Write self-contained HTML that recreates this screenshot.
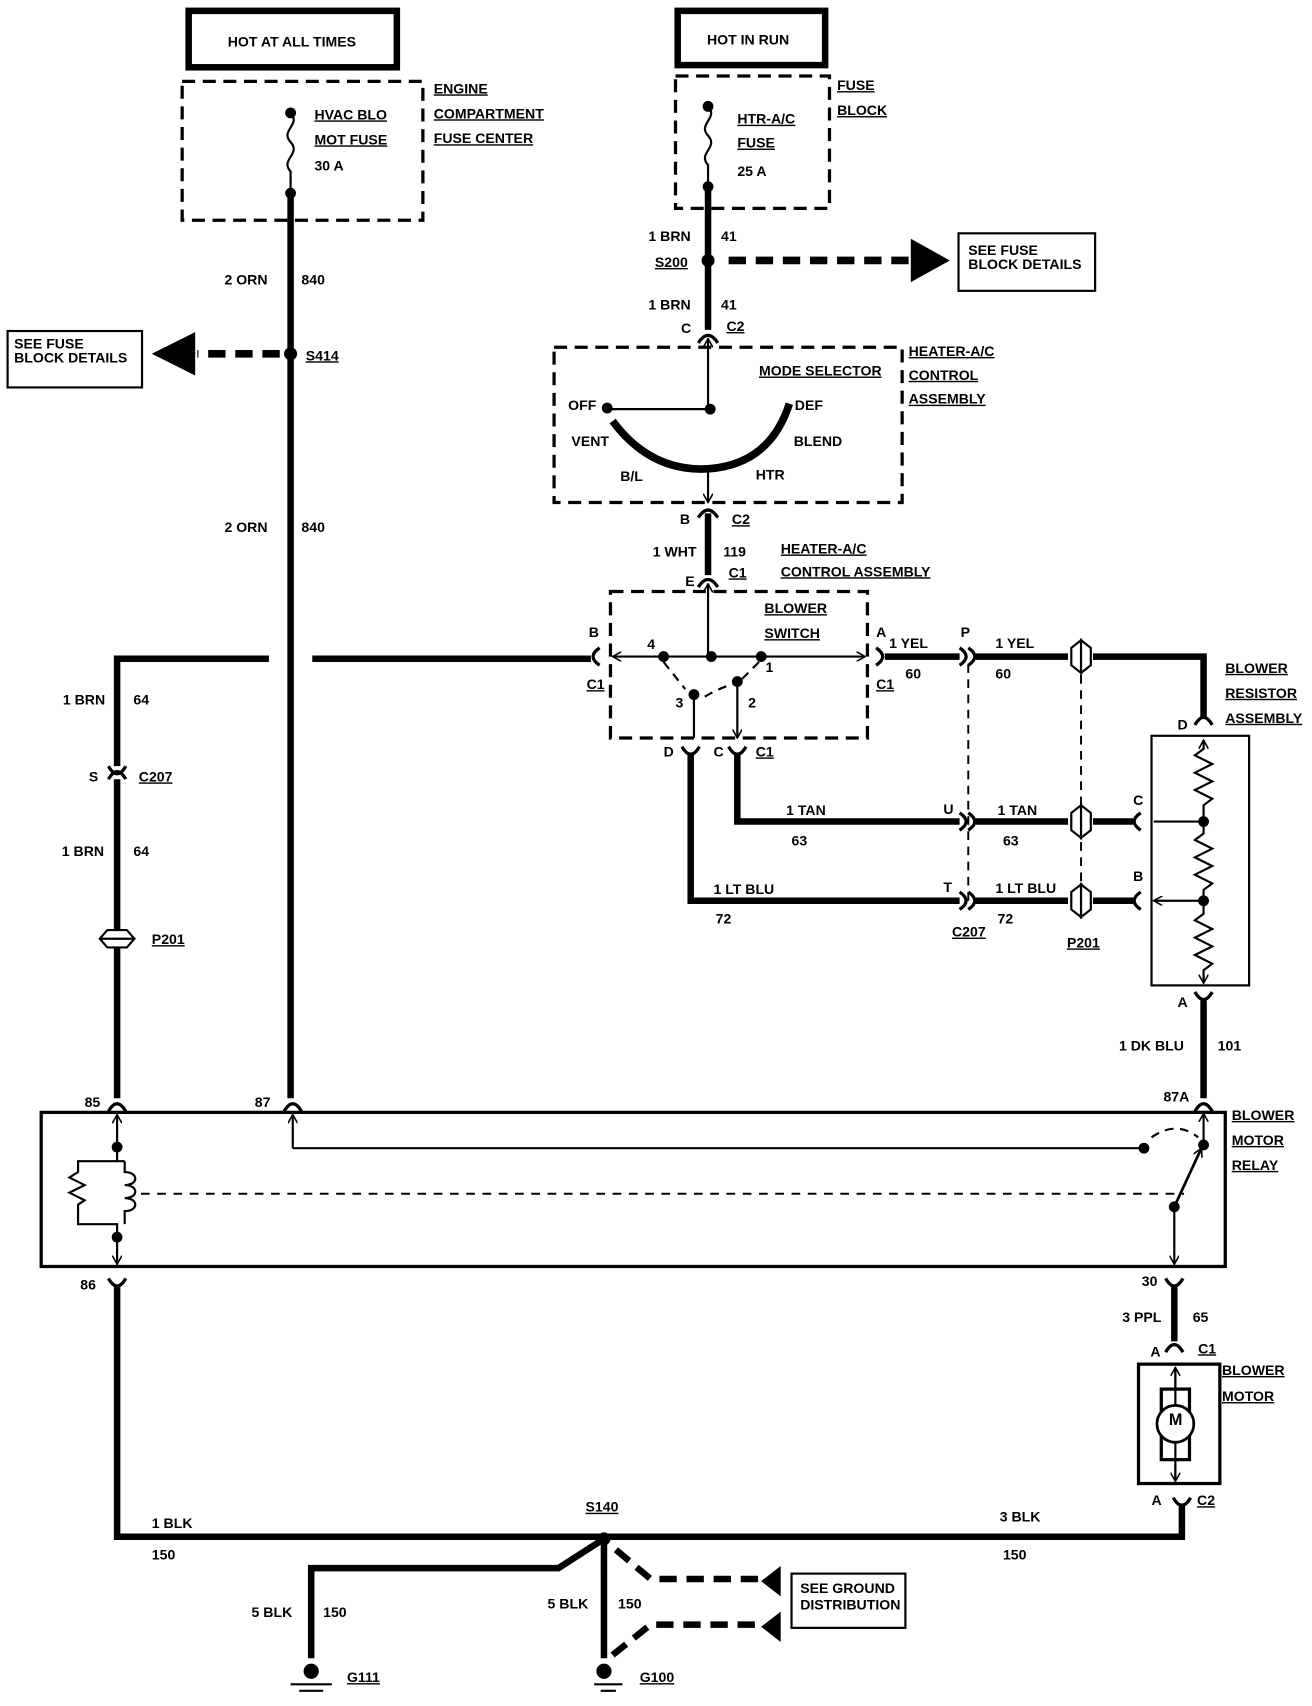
<!DOCTYPE html>
<html><head><meta charset="utf-8"><style>
html,body{margin:0;padding:0;background:#fff;}
svg{display:block;}
text{font-family:"Liberation Sans",sans-serif;font-weight:bold;font-size:13px;fill:#000;}
</style></head><body>
<svg width="1312" height="1706" viewBox="0 0 1210 1572" preserveAspectRatio="none" xmlns="http://www.w3.org/2000/svg">
<defs>
<marker id="ah" viewBox="0 0 10 10" refX="9" refY="5" markerWidth="9" markerHeight="9" orient="auto-start-reverse" markerUnits="userSpaceOnUse"><path d="M0,0 L9,5 L0,10" fill="none" stroke="#000" stroke-width="1.6"/></marker>
</defs>
<g stroke="#000" fill="none">
<!-- top boxes -->
<rect x="174" y="10" width="192" height="52" stroke-width="6"/>
<rect x="625" y="10" width="136" height="50" stroke-width="6"/>
<!-- dashed fuse boxes -->
<rect x="168" y="75" width="222" height="128" stroke-width="3" stroke-dasharray="12,7"/>
<rect x="623" y="70" width="142" height="122" stroke-width="3" stroke-dasharray="12,7"/>
<rect x="511" y="320" width="321" height="143" stroke-width="3" stroke-dasharray="12,7"/>
<rect x="563" y="545" width="237" height="135" stroke-width="3" stroke-dasharray="12,7"/>
<!-- fuses -->
<path d="M268,104 C278,115 258,120 268,131 C278,142 258,147 268,158 L268,178" stroke-width="2"/>
<path d="M653,98 C663,109 643,114 653,125 C663,136 643,141 653,152 L653,172" stroke-width="2"/>
<!-- main wires -->
<path d="M268,180 V1012" stroke-width="6"/>
<path d="M653,174 V304" stroke-width="6"/>
<path d="M653,473 V530" stroke-width="6"/>
<path d="M545,607 H288 M248,607 H108 V706 M108,718 V1012" stroke-width="6"/>
<path d="M816,605 H885 M900,605 H985 M1008,605 H1110 V662" stroke-width="6"/>
<path d="M680,694 V757 H885 M900,757 H985 M1008,757 H1045" stroke-width="6"/>
<path d="M637,694 V830 H885 M900,830 H985 M1008,830 H1045" stroke-width="6"/>
<path d="M1110,922 V1012" stroke-width="6"/>
<path d="M108,1184 V1416 H1090 V1388" stroke-width="6"/>
<path d="M1083,1184 V1236" stroke-width="6"/>
<path d="M557,1418 V1528 M557,1418 L515,1445 H287 V1528" stroke-width="6"/>
<!-- dashed arrows -->
<path d="M258,326 H182" stroke-width="7" stroke-dasharray="16,9"/>
<path d="M672,240 H848" stroke-width="7" stroke-dasharray="16,9"/>
<path d="M568,1428 L600,1455 H700 M565,1525 L600,1497 H700" stroke-width="6" stroke-dasharray="16,9"/>
<!-- boxes -->
<rect x="7" y="305" width="124" height="52" stroke-width="2"/>
<rect x="884" y="215" width="126" height="53" stroke-width="2"/>
<rect x="730" y="1450" width="105" height="50" stroke-width="2"/>
<rect x="1062" y="678" width="90" height="230" stroke-width="2"/>
<rect x="38" y="1025" width="1092" height="142" stroke-width="3"/>
<rect x="1050" y="1257" width="75" height="110" stroke-width="3"/>
<!-- connectors (arcs) -->
<g stroke-width="3">
<path d="M644,316 Q653,302 662,316"/><path d="M644,477 Q653,463 662,477"/><path d="M644,541 Q653,527 662,541"/>
<path d="M100,718 Q108,704 116,718"/><path d="M100,706 Q108,720 116,706"/>
<path d="M100,1024 Q108,1010 116,1024"/><path d="M262,1024 Q270,1010 278,1024"/><path d="M1102,1024 Q1110,1010 1118,1024"/>
<path d="M1102,668 Q1110,654 1118,668"/><path d="M1102,914 Q1110,928 1118,914"/>
<path d="M100,1178 Q108,1192 116,1178"/><path d="M1075,1178 Q1083,1192 1091,1178"/>
<path d="M1075,1246 Q1083,1232 1091,1246"/><path d="M1082,1380 Q1090,1394 1098,1380"/>
<path d="M629,688 Q637,702 645,688"/><path d="M672,688 Q680,702 688,688"/>
<path d="M553,597 Q541,605 553,613"/><path d="M808,597 Q820,605 808,613"/>
<path d="M885,597 Q897,605 885,613"/><path d="M893,597 Q905,605 893,613"/>
<path d="M885,749 Q897,757 885,765"/><path d="M893,749 Q905,757 893,765"/>
<path d="M885,822 Q897,830 885,838"/><path d="M893,822 Q905,830 893,838"/>
<path d="M1052,749 Q1040,757 1052,765"/><path d="M1052,822 Q1040,830 1052,838"/>
</g>
<!-- P201 inline connectors -->
<g stroke-width="2" fill="#fff">
<path d="M997,590 L988,597 V613 L997,620 Z"/><path d="M997,590 L1006,597 V613 L997,620 Z"/>
<path d="M997,742 L988,749 V765 L997,772 Z"/><path d="M997,742 L1006,749 V765 L997,772 Z"/>
<path d="M997,815 L988,822 V838 L997,845 Z"/><path d="M997,815 L1006,822 V838 L997,845 Z"/>
<path d="M92,865 L99,857 H117 L124,865 L117,873 H99 Z"/><path d="M92,865 H124"/>
</g>
<!-- dashed mech links -->
<path d="M893,612 V830 M997,622 V815" stroke-width="1.8" stroke-dasharray="8,6"/>
<path d="M130,1100 H1092" stroke-width="1.8" stroke-dasharray="8,7"/>
<!-- mode selector -->
<path d="M653,312 V377 H562" stroke-width="2" marker-start="url(#ah)"/>
<path d="M565,388 Q600,435 653,432 Q710,428 728,372" stroke-width="7"/>
<path d="M653,432 V463" stroke-width="2" marker-end="url(#ah)"/>
<!-- blower switch -->
<path d="M653,605 V538" stroke-width="2" marker-end="url(#ah)"/>
<path d="M653,605 H565" stroke-width="2" marker-end="url(#ah)"/>
<path d="M653,605 H798" stroke-width="2" marker-end="url(#ah)"/>
<path d="M612,610 L632,635 M700,610 L682,628 M650,642 Q665,633 678,630" stroke-width="2" stroke-dasharray="8,6"/>
<path d="M640,640 V680 M680,628 V680" stroke-width="2" marker-end="url(#ah)"/>
<!-- resistor assembly -->
<path d="M1110,757 V690 M1110,830 V680 M1110,830 V908" stroke-width="2" stroke-opacity="0"/>
<path d="M1110,682 V690 L1102,696 L1118,704 L1102,712 L1118,720 L1102,728 L1118,736 L1110,742 V757 V768 L1102,774 L1118,782 L1102,790 L1118,798 L1102,806 L1118,814 L1110,820 V830 V842 L1102,848 L1118,856 L1102,864 L1118,872 L1102,880 L1118,888 L1110,894 V906" stroke-width="2"/>
<path d="M1110,690 V682" stroke-width="2" marker-end="url(#ah)"/>
<path d="M1110,898 V906" stroke-width="2" marker-end="url(#ah)"/>
<path d="M1110,757 H1064 M1110,830 H1064" stroke-width="2" marker-end="url(#ah)"/>
<!-- relay -->
<path d="M108,1057 V1027" stroke-width="2" marker-end="url(#ah)"/>
<path d="M108,1140 V1165" stroke-width="2" marker-end="url(#ah)"/>
<path d="M108,1057 V1070 H72 V1080 L64,1085 L78,1092 L64,1099 L78,1106 L72,1110 V1128 H108 V1140 M108,1070 H115 M115,1070 V1080 C128,1080 128,1092 115,1092 C128,1092 128,1104 115,1104 C128,1104 128,1116 115,1116 V1128" stroke-width="2"/>
<path d="M270,1058 V1027" stroke-width="2" marker-end="url(#ah)"/>
<path d="M270,1058 H1055" stroke-width="2"/>
<path d="M1110,1055 V1026" stroke-width="2" marker-end="url(#ah)"/>
<path d="M1083,1112 L1108,1058" stroke-width="2.5" marker-end="url(#ah)"/>
<path d="M1083,1112 V1165" stroke-width="2" marker-end="url(#ah)"/>
<path d="M1062,1048 Q1085,1032 1105,1048" stroke-width="2" stroke-dasharray="8,6"/>
<!-- motor -->
<rect x="1071" y="1280" width="26" height="65" stroke-width="3"/>
<circle cx="1084" cy="1312" r="17" stroke-width="2.5" fill="#fff"/>
<path d="M1084,1295 V1260 M1084,1329 V1365" stroke-width="2"/>
<path d="M1084,1280 V1260" stroke-width="2" marker-end="url(#ah)"/>
<path d="M1084,1350 V1365" stroke-width="2" marker-end="url(#ah)"/>
<!-- grounds -->
<path d="M268,1552 H306 M276,1558 H298 M548,1552 H574 M554,1558 H568" stroke-width="2"/>
</g>
<!-- arrowheads filled -->
<g fill="#000">
<path d="M140,326 L180,306 V346 Z"/>
<path d="M876,240 L840,220 V260 Z"/>
<path d="M702,1457 L720,1443 V1471 Z"/>
<path d="M702,1499 L720,1485 V1513 Z"/>
<circle cx="268" cy="104" r="5"/><circle cx="268" cy="178" r="5"/>
<circle cx="653" cy="98" r="5"/><circle cx="653" cy="172" r="5"/>
<circle cx="653" cy="240" r="6"/><circle cx="268" cy="326" r="6"/>
<circle cx="655" cy="377" r="5"/><circle cx="560" cy="376" r="5"/>
<circle cx="656" cy="605" r="5"/><circle cx="612" cy="605" r="5"/><circle cx="702" cy="605" r="5"/>
<circle cx="640" cy="640" r="5"/><circle cx="680" cy="628" r="5"/>
<circle cx="1110" cy="757" r="5"/><circle cx="1110" cy="830" r="5"/>
<circle cx="108" cy="1057" r="5"/><circle cx="108" cy="1140" r="5"/>
<circle cx="1055" cy="1058" r="5"/><circle cx="1110" cy="1055" r="5"/><circle cx="1083" cy="1112" r="5"/>
<circle cx="557" cy="1418" r="6"/>
<circle cx="287" cy="1540" r="7"/><circle cx="557" cy="1540" r="7"/>
</g>
<!-- text -->
<text x="210" y="43">HOT AT ALL TIMES</text>
<text x="652" y="41">HOT IN RUN</text>
<text x="290" y="110" text-decoration="underline">HVAC BLO</text>
<text x="290" y="133" text-decoration="underline">MOT FUSE</text>
<text x="290" y="157">30 A</text>
<text x="400" y="86" text-decoration="underline">ENGINE</text>
<text x="400" y="109" text-decoration="underline">COMPARTMENT</text>
<text x="400" y="132" text-decoration="underline">FUSE CENTER</text>
<text x="680" y="114" text-decoration="underline">HTR-A/C</text>
<text x="680" y="136" text-decoration="underline">FUSE</text>
<text x="680" y="162">25 A</text>
<text x="772" y="83" text-decoration="underline">FUSE</text>
<text x="772" y="106" text-decoration="underline">BLOCK</text>
<text x="598" y="222">1 BRN</text><text x="665" y="222">41</text>
<text x="604" y="246" text-decoration="underline">S200</text>
<text x="893" y="235">SEE FUSE</text><text x="893" y="248">BLOCK DETAILS</text>
<text x="598" y="285">1 BRN</text><text x="665" y="285">41</text>
<text x="628" y="307">C</text><text x="670" y="305" text-decoration="underline">C2</text>
<text x="838" y="328" text-decoration="underline">HEATER-A/C</text>
<text x="838" y="350" text-decoration="underline">CONTROL</text>
<text x="838" y="372" text-decoration="underline">ASSEMBLY</text>
<text x="700" y="346" text-decoration="underline">MODE SELECTOR</text>
<text x="524" y="378">OFF</text><text x="733" y="378">DEF</text>
<text x="527" y="411">VENT</text><text x="732" y="411">BLEND</text>
<text x="572" y="443">B/L</text><text x="697" y="442">HTR</text>
<text x="627" y="483">B</text><text x="675" y="483" text-decoration="underline">C2</text>
<text x="602" y="513">1 WHT</text><text x="667" y="513">119</text>
<text x="720" y="510" text-decoration="underline">HEATER-A/C</text>
<text x="720" y="531" text-decoration="underline">CONTROL  ASSEMBLY</text>
<text x="632" y="540">E</text><text x="672" y="532" text-decoration="underline">C1</text>
<text x="705" y="565" text-decoration="underline">BLOWER</text>
<text x="705" y="588" text-decoration="underline">SWITCH</text>
<text x="543" y="587">B</text><text x="541" y="635" text-decoration="underline">C1</text>
<text x="808" y="587">A</text><text x="808" y="635" text-decoration="underline">C1</text>
<text x="597" y="598">4</text><text x="706" y="619">1</text><text x="623" y="652">3</text><text x="690" y="652">2</text>
<text x="612" y="697">D</text><text x="658" y="697">C</text><text x="697" y="697" text-decoration="underline">C1</text>
<text x="820" y="597">1 YEL</text><text x="835" y="625">60</text>
<text x="886" y="587">P</text>
<text x="918" y="597">1 YEL</text><text x="918" y="625">60</text>
<text x="1130" y="620" text-decoration="underline">BLOWER</text>
<text x="1130" y="643" text-decoration="underline">RESISTOR</text>
<text x="1130" y="666" text-decoration="underline">ASSEMBLY</text>
<text x="1086" y="672">D</text>
<text x="725" y="751">1 TAN</text><text x="730" y="779">63</text>
<text x="870" y="750">U</text>
<text x="920" y="751">1 TAN</text><text x="925" y="779">63</text>
<text x="1045" y="742">C</text><text x="1045" y="812">B</text>
<text x="658" y="824">1 LT BLU</text><text x="660" y="851">72</text>
<text x="870" y="822">T</text>
<text x="878" y="863" text-decoration="underline">C207</text>
<text x="918" y="823">1 LT BLU</text><text x="920" y="851">72</text>
<text x="984" y="873" text-decoration="underline">P201</text>
<text x="1086" y="928">A</text>
<text x="1032" y="968">1 DK BLU</text><text x="1123" y="968">101</text>
<text x="58" y="649">1 BRN</text><text x="123" y="649">64</text>
<text x="82" y="720">S</text><text x="128" y="720" text-decoration="underline">C207</text>
<text x="57" y="789">1 BRN</text><text x="123" y="789">64</text>
<text x="140" y="870" text-decoration="underline">P201</text>
<text x="207" y="262">2 ORN</text><text x="278" y="262">840</text>
<text x="282" y="332" text-decoration="underline">S414</text>
<text x="13" y="321">SEE FUSE</text><text x="13" y="334">BLOCK DETAILS</text>
<text x="207" y="490">2 ORN</text><text x="278" y="490">840</text>
<text x="78" y="1020">85</text><text x="235" y="1020">87</text><text x="1073" y="1015">87A</text>
<text x="1136" y="1032" text-decoration="underline">BLOWER</text>
<text x="1136" y="1055" text-decoration="underline">MOTOR</text>
<text x="1136" y="1078" text-decoration="underline">RELAY</text>
<text x="74" y="1188">86</text><text x="1053" y="1185">30</text>
<text x="1035" y="1218">3 PPL</text><text x="1100" y="1218">65</text>
<text x="1061" y="1250">A</text><text x="1105" y="1247" text-decoration="underline">C1</text>
<text x="1127" y="1267" text-decoration="underline">BLOWER</text>
<text x="1127" y="1291" text-decoration="underline">MOTOR</text>
<text x="1078" y="1313" style="font-size:15px">M</text>
<text x="1062" y="1387">A</text><text x="1104" y="1387" text-decoration="underline">C2</text>
<text x="140" y="1408">1 BLK</text><text x="140" y="1437">150</text>
<text x="922" y="1402">3 BLK</text><text x="925" y="1437">150</text>
<text x="540" y="1393" text-decoration="underline">S140</text>
<text x="232" y="1490">5 BLK</text><text x="298" y="1490">150</text>
<text x="505" y="1482">5 BLK</text><text x="570" y="1482">150</text>
<text x="738" y="1468">SEE GROUND</text><text x="738" y="1483">DISTRIBUTION</text>
<text x="320" y="1550" text-decoration="underline">G111</text>
<text x="590" y="1550" text-decoration="underline">G100</text>
</svg>
</body></html>
